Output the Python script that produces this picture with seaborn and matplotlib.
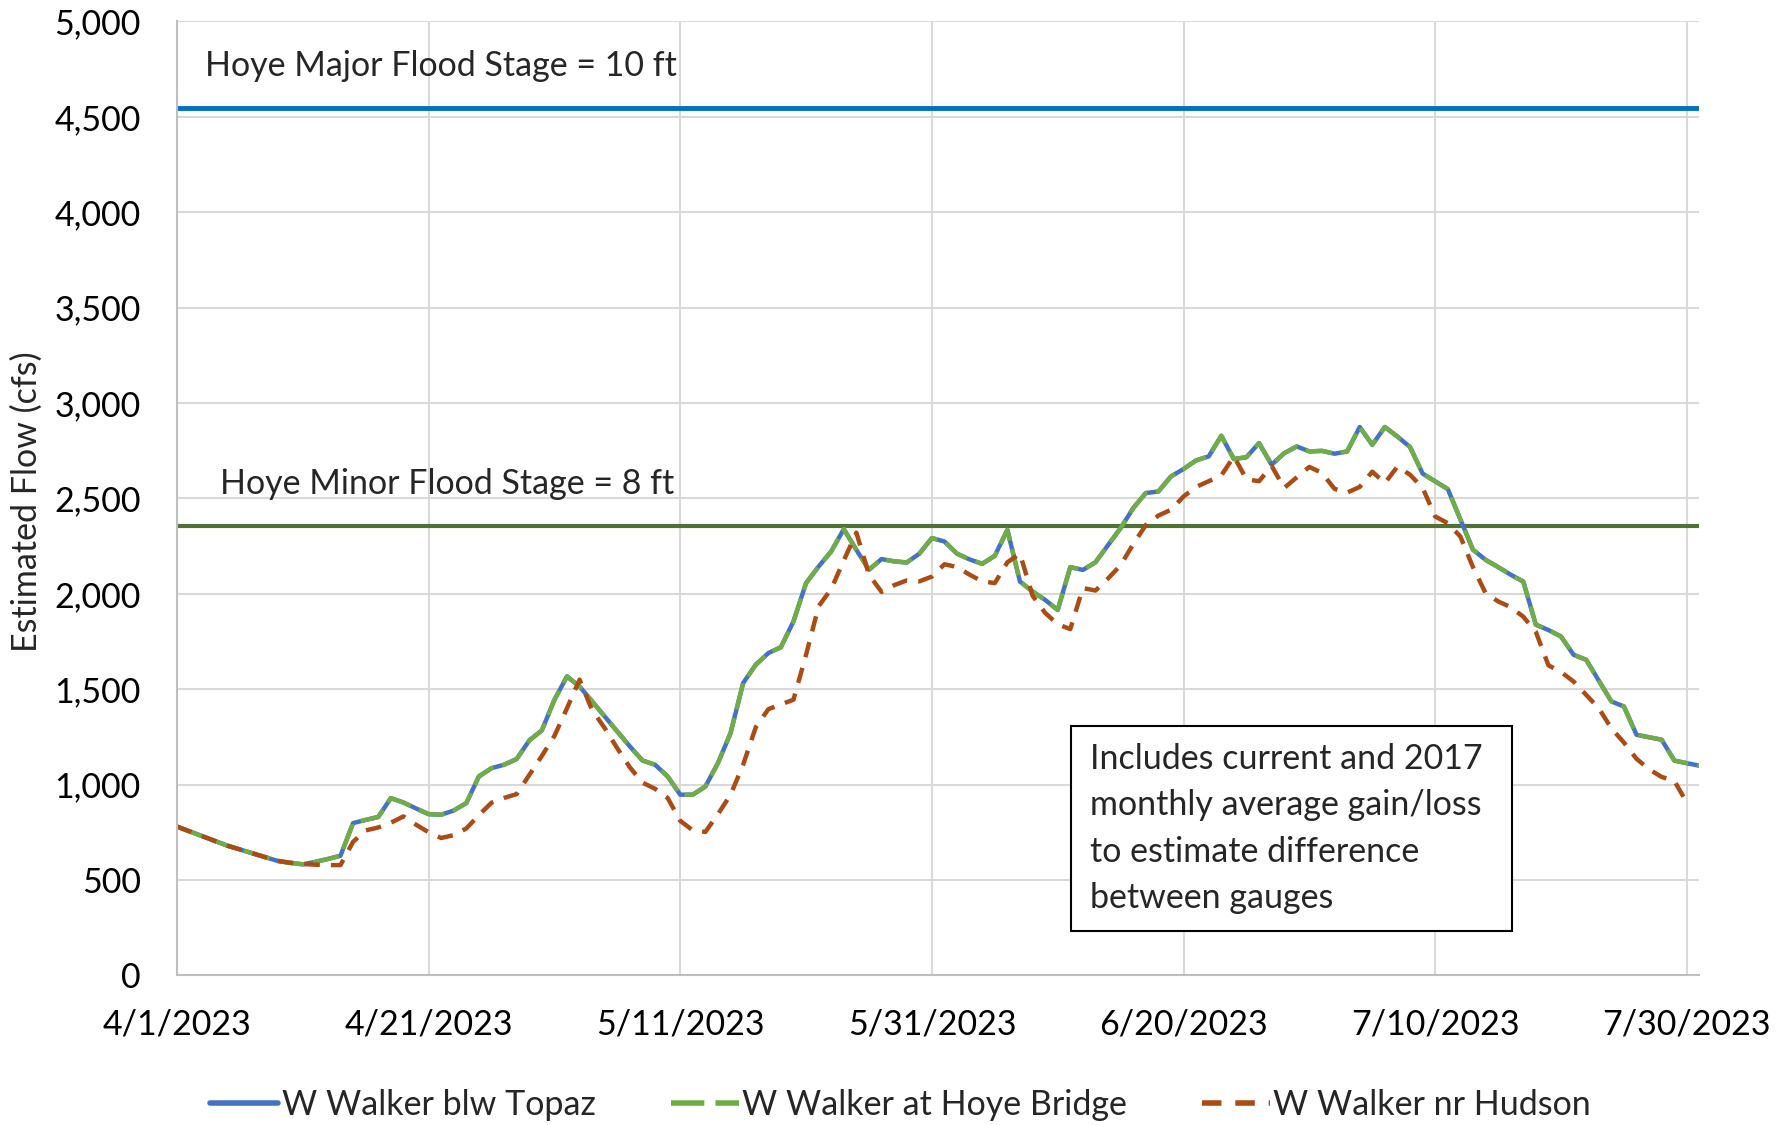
import matplotlib
matplotlib.use("Agg")
import numpy as np
import pandas as pd
import seaborn as sns
from matplotlib import pyplot
from matplotlib import dates as mdates
from matplotlib.lines import Line2D
from matplotlib.patches import Rectangle
from matplotlib.ticker import FuncFormatter, MultipleLocator

# daily estimated flows (cfs), 4/1/2023 onward
topaz_cfs = [780, 755, 730, 705, 680, 660, 640, 620, 600, 590,
             582, 595, 610, 627, 798, 815, 830, 929, 906, 875,
             845, 842, 864, 903, 1043, 1086, 1104, 1134, 1231, 1284,
             1444, 1567, 1514, 1436, 1357, 1278, 1200, 1126, 1104, 1043,
             947, 947, 990, 1113, 1270, 1532, 1628, 1689, 1720, 1855,
             2056, 2143, 2222, 2339, 2230, 2126, 2182, 2170, 2164, 2210,
             2292, 2274, 2210, 2180, 2157, 2199, 2335, 2064, 2012, 1968,
             1915, 2140, 2125, 2165, 2255, 2344, 2449, 2528, 2536, 2615,
             2654, 2699, 2720, 2828, 2706, 2716, 2790, 2676, 2737, 2772,
             2746, 2749, 2734, 2746, 2874, 2781, 2874, 2824, 2769, 2630,
             2589, 2549, 2390, 2231, 2178, 2140, 2100, 2064, 1838, 1810,
             1776, 1680, 1654, 1545, 1436, 1409, 1261, 1248, 1235, 1126,
             1112, 1099]
# Hoye Bridge estimate sits exactly on top of the Topaz series
hoye_cfs = list(topaz_cfs)
hudson_cfs = [780, 755, 730, 705, 680, 660, 640, 620, 600, 590,
              584, 580, 578, 578, 700, 760, 775, 800, 833, 790,
              750, 720, 735, 770, 840, 905, 930, 950, 1050, 1150,
              1255, 1400, 1550, 1390, 1296, 1190, 1090, 1010, 978, 930,
              810, 760, 752, 845, 947, 1104, 1300, 1395, 1420, 1445,
              1680, 1935, 2025, 2175, 2320, 2100, 2010, 2045, 2070, 2065,
              2090, 2155, 2140, 2100, 2065, 2056, 2165, 2210, 1990, 1900,
              1840, 1815, 2030, 2017, 2080, 2150, 2260, 2360, 2410, 2440,
              2510, 2560, 2590, 2620, 2720, 2600, 2590, 2670, 2555, 2610,
              2665, 2633, 2550, 2530, 2560, 2640, 2580, 2667, 2624, 2555,
              2405, 2370, 2300, 2140, 2004, 1960, 1930, 1880, 1800, 1625,
              1590, 1540, 1470, 1400, 1295, 1220, 1135, 1080, 1040, 1020,
              905]
series_names = ["W Walker blw Topaz", "W Walker at Hoye Bridge", "W Walker nr Hudson"]
major_stage_cfs = 4545
minor_stage_cfs = 2356
major_label = "Hoye Major Flood Stage = 10 ft"
minor_label = "Hoye Minor Flood Stage = 8 ft"
note_text = ("Includes current and 2017\nmonthly average gain/loss\n"
             "to estimate difference\nbetween gauges")

dates = pd.date_range("2023-04-01", periods=len(topaz_cfs), freq="D")
df = pd.DataFrame({"date": dates, "topaz": topaz_cfs, "hoye": hoye_cfs,
                   "hudson": hudson_cfs + [np.nan] * (len(topaz_cfs) - len(hudson_cfs))})

sns.set_theme(style="white")
pyplot.rcParams["font.family"] = ["Lato", "DejaVu Sans"]
fs = 24.5

fig = pyplot.figure(figsize=(17.87, 11.25), dpi=100)
ax = fig.add_axes([0.099, 0.133, 0.852, 0.848])

blue, green, brown = "#4472C4", "#70AD47", "#AC4C14"
sns.lineplot(data=df, x="date", y="topaz", color=blue, linewidth=3.2, ax=ax)
sns.lineplot(data=df, x="date", y="hoye", color=green, linewidth=3.2,
             linestyle=(0, (6, 2)), ax=ax)
sns.lineplot(data=df.dropna(), x="date", y="hudson", color=brown, linewidth=3.2,
             linestyle=(0, (3.5, 2.5)), ax=ax)

ax.axhline(major_stage_cfs, color="#0070C0", linewidth=3.5, zorder=1)
ax.axhline(minor_stage_cfs, color="#507335", linewidth=3.0, zorder=1)

x0 = pd.Timestamp("2023-04-01")
ax.set_xlim(x0, pd.Timestamp("2023-07-31"))
ax.set_ylim(0, 5000)
ax.set_xticks(pd.date_range(x0, periods=7, freq="20D"))
ax.xaxis.set_major_formatter(FuncFormatter(
    lambda v, p: f"{mdates.num2date(v).month}/{mdates.num2date(v).day}/{mdates.num2date(v).year}"))
ax.yaxis.set_major_locator(MultipleLocator(500))
ax.yaxis.set_major_formatter(FuncFormatter(lambda v, p: f"{int(v):,}"))
ax.tick_params(axis="both", length=0, labelsize=fs, colors="black")
ax.tick_params(axis="y", pad=26)
ax.tick_params(axis="x", pad=24)

ax.grid(True, color="#D9D9D9", linewidth=1.5)
ax.set_axisbelow(True)
for side in ["top", "right"]:
    ax.spines[side].set_visible(False)
for side in ["left", "bottom"]:
    ax.spines[side].set_color("#BFBFBF")
    ax.spines[side].set_linewidth(1.5)

ax.set_xlabel("")
ax.set_ylabel("Estimated Flow (cfs)", fontsize=fs)
ax.yaxis.set_label_coords(-0.088, 0.497)

ax.text(x0 + pd.Timedelta(days=2.2), 4767, major_label, fontsize=fs, va="center")
ax.text(x0 + pd.Timedelta(days=3.4), 2576, minor_label, fontsize=fs, va="center")

ax.add_patch(Rectangle((0.587, 0.0466), 0.29, 0.215, transform=ax.transAxes,
                       facecolor="white", edgecolor="black", linewidth=1.5, zorder=5))
ax.text(0.600, 0.154, note_text, transform=ax.transAxes, fontsize=fs,
        va="center", ha="left", linespacing=1.55, zorder=6)

handles = [Line2D([], [], color=blue, linewidth=4),
           Line2D([], [], color=green, linewidth=4, linestyle=(0, (6, 2))),
           Line2D([], [], color=brown, linewidth=4, linestyle=(0, (3.5, 2.5)))]
fig.legend(handles, series_names, loc="center", bbox_to_anchor=(0.504, 0.018), ncol=3,
           frameon=False, fontsize=fs, handlelength=2.0, handletextpad=0.1,
           columnspacing=2.2)

pyplot.savefig("out.png", dpi=100)
pyplot.close()
